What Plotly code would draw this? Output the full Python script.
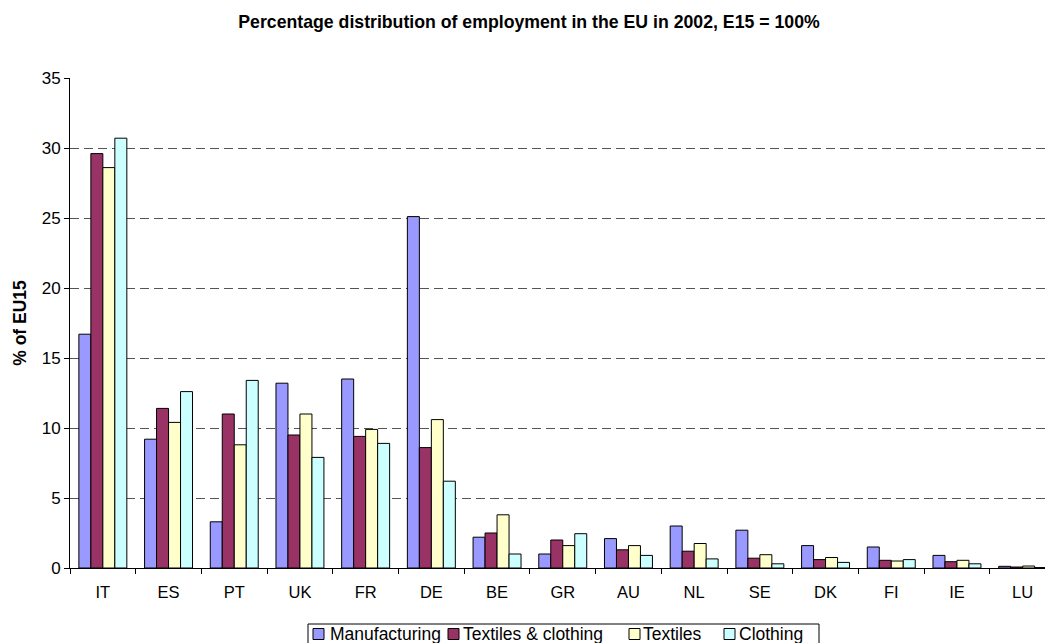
import plotly.graph_objects as go

# EU15 member states, ordered as in the source table
countries = ["IT", "ES", "PT", "UK", "FR", "DE", "BE", "GR", "AU", "NL",
             "SE", "DK", "FI", "IE", "LU"]

# Share of EU15 employment (%) by sector, 2002
manufacturing = [16.7, 9.2, 3.3, 13.2, 13.5, 25.1, 2.2, 1.0, 2.1, 3.0,
                 2.7, 1.6, 1.5, 0.9, 0.12]
textiles_clothing = [29.6, 11.4, 11.0, 9.5, 9.4, 8.6, 2.5, 2.0, 1.3, 1.2,
                     0.7, 0.6, 0.55, 0.45, 0.07]
textiles = [28.6, 10.4, 8.8, 11.0, 9.9, 10.6, 3.8, 1.6, 1.6, 1.75,
            0.95, 0.75, 0.5, 0.55, 0.14]
clothing = [30.7, 12.6, 13.4, 7.9, 8.9, 6.2, 1.0, 2.45, 0.9, 0.65,
            0.3, 0.4, 0.6, 0.3, 0.03]

series = [
    ("Manufacturing", manufacturing, "#9999FF"),
    ("Textiles & clothing", textiles_clothing, "#993366"),
    ("Textiles", textiles, "#FFFFCC"),
    ("Clothing", clothing, "#CCFFFF"),
]

FONT = "Liberation Sans, Arial, sans-serif"
W, H = 1045, 643
ML, MR, MT, MB = 70, 0, 78, 75
PW, PH = W - ML - MR, H - MT - MB


def px_x(px):
    """Pixel column -> paper x."""
    return (px - ML) / PW


def px_y(py):
    """Pixel row -> paper y."""
    return (H - MB - py) / PH


fig = go.Figure()
for name, values, color in series:
    fig.add_trace(go.Bar(
        name=name,
        x=countries,
        y=values,
        marker=dict(color=color, line=dict(color="#000000", width=1)),
        showlegend=False,
    ))

# Boxed legend strip below the category axis
legend_box = dict(left=308, right=819, top=624, bottom=660)
swatch_left = [313, 448, 629, 724]
label_left = [329, 462, 642, 738]
row_mid = 634
sw = 11

shapes = [dict(
    type="rect", xref="paper", yref="paper", layer="above",
    x0=px_x(legend_box["left"]), x1=px_x(legend_box["right"]),
    y0=px_y(legend_box["bottom"]), y1=px_y(legend_box["top"]),
    line=dict(color="#000000", width=1), fillcolor="white",
)]
annotations = []
for (name, _, color), sx, tx in zip(series, swatch_left, label_left):
    shapes.append(dict(
        type="rect", xref="paper", yref="paper", layer="above",
        x0=px_x(sx), x1=px_x(sx + sw),
        y0=px_y(row_mid + sw / 2), y1=px_y(row_mid - sw / 2),
        line=dict(color="#000000", width=1), fillcolor=color,
    ))
    annotations.append(dict(
        text=name, xref="paper", yref="paper",
        x=px_x(tx), y=px_y(row_mid), xanchor="left", yanchor="middle",
        showarrow=False, borderpad=0,
        font=dict(size=17.5, family=FONT, color="#000000"),
    ))

fig.update_layout(
    width=W,
    height=H,
    margin=dict(l=ML, r=MR, t=MT, b=MB, pad=0, autoexpand=False),
    paper_bgcolor="white",
    plot_bgcolor="white",
    barmode="group",
    bargap=0.27,
    bargroupgap=0,
    font=dict(family=FONT, color="#000000"),
    title=dict(
        text="<b>Percentage distribution of employment in the EU in 2002, E15 = 100%</b>",
        x=px_x(529), xref="paper", xanchor="center",
        y=1 - 22 / H, yref="container", yanchor="middle",
        font=dict(size=17.7, family=FONT),
    ),
    showlegend=False,
    shapes=shapes,
    annotations=annotations,
)

fig.update_xaxes(
    type="category",
    range=[-0.5, 14.34],
    showline=True,
    linecolor="#000000",
    linewidth=1,
    ticks="outside",
    tickson="boundaries",
    ticklen=5,
    tickcolor="#000000",
    showgrid=False,
    ticklabelstandoff=9,
    tickfont=dict(size=16.5, family=FONT),
)

fig.update_yaxes(
    range=[0, 35],
    tick0=0,
    dtick=5,
    showline=True,
    linecolor="#000000",
    linewidth=1,
    ticks="outside",
    ticklen=5,
    tickcolor="#000000",
    showgrid=True,
    gridcolor="#555555",
    gridwidth=1,
    griddash="9px,5px",
    zeroline=False,
    tickfont=dict(size=17, family=FONT),
    title=dict(text="<b>% of EU15</b>", font=dict(size=17.5, family=FONT), standoff=10),
)

fig.write_html("out.html")
